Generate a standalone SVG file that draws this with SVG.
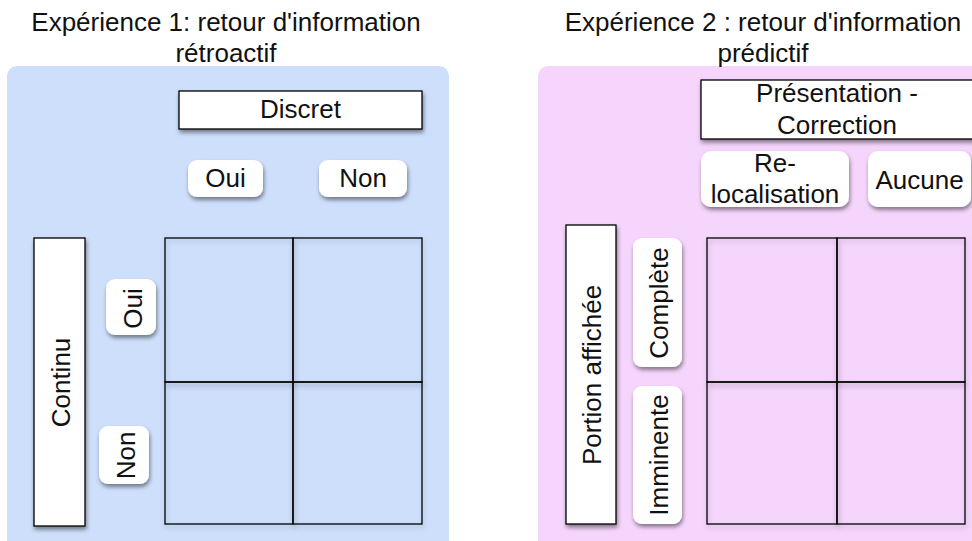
<svg xmlns="http://www.w3.org/2000/svg" width="972" height="541" viewBox="0 0 972 541">
<defs>
<filter id="sh" x="-20%" y="-20%" width="140%" height="140%">
<feDropShadow dx="1" dy="3" stdDeviation="2.2" flood-color="#000" flood-opacity="0.45"/>
</filter>
<filter id="shl" x="-20%" y="-20%" width="140%" height="140%">
<feDropShadow dx="1" dy="3" stdDeviation="2.5" flood-color="#000" flood-opacity="0.22"/>
</filter>
</defs>
<style>
text{font-family:"Liberation Sans",Arial,Helvetica,sans-serif;font-size:26px;fill:#111;}
.c{text-anchor:middle;}
.box{fill:#fff;stroke:#000;stroke-width:1.3;filter:url(#sh);}
.pill{fill:#fff;filter:url(#sh);}
.cell{fill:none;stroke:#000;stroke-width:1.3;filter:url(#shl);}
</style>
<rect x="7" y="66" width="442" height="500" rx="10" fill="#cddffb"/>
<rect x="538" y="66" width="460" height="500" rx="10" fill="#f6d5fc"/>
<g id="title1">
<text class="c" x="226" y="31">Expérience 1: retour d'information</text>
<text class="c" x="226" y="62">rétroactif</text>
</g>
<g id="title2">
<text class="c" x="763" y="31">Expérience 2 : retour d'information</text>
<text class="c" x="763" y="62">prédictif</text>
</g>
<g id="discret"><rect class="box" x="179" y="91" width="243" height="38"/><text class="c" x="300.5" y="118">Discret</text></g>
<g id="d-oui"><rect class="pill" x="188" y="160" width="75" height="37" rx="9"/><text class="c" x="225.5" y="187">Oui</text></g>
<g id="d-non"><rect class="pill" x="319" y="160" width="88" height="37" rx="9"/><text class="c" x="363" y="187">Non</text></g>
<g id="continu"><rect class="box" x="34" y="238" width="51" height="288"/><text class="c" transform="translate(70,382.5) rotate(-90)">Continu</text></g>
<g id="c-oui"><rect class="pill" x="106" y="279" width="50" height="56" rx="9"/><text class="c" transform="translate(141.5,308.5) rotate(-90)">Oui</text></g>
<g id="c-non"><rect class="pill" x="99" y="426" width="50" height="58" rx="9"/><text class="c" transform="translate(135,455.5) rotate(-90)">Non</text></g>
<g id="grid1">
<rect class="cell" x="165" y="238" width="128" height="144"/>
<rect class="cell" x="293" y="238" width="129" height="144"/>
<rect class="cell" x="165" y="382" width="128" height="142"/>
<rect class="cell" x="293" y="382" width="129" height="142"/>
</g>
<g id="presentation"><rect class="box" x="701" y="80" width="280" height="59"/><text class="c" x="837" y="102">Présentation -</text><text class="c" x="837" y="134">Correction</text></g>
<g id="p-reloc"><rect class="pill" x="701" y="151" width="148" height="56" rx="10"/><text class="c" x="775" y="172">Re-</text><text class="c" x="775" y="203">localisation</text></g>
<g id="p-aucune"><rect class="pill" x="868" y="151" width="103" height="56" rx="10"/><text class="c" x="919.5" y="189">Aucune</text></g>
<g id="portion"><rect class="box" x="566" y="225" width="50" height="299"/><text class="c" transform="translate(601,375) rotate(-90)">Portion affichée</text></g>
<g id="complete"><rect class="pill" x="633" y="238" width="49" height="129" rx="9"/><text class="c" transform="translate(667.5,303) rotate(-90)">Complète</text></g>
<g id="imminente"><rect class="pill" x="633" y="386" width="49" height="138" rx="9"/><text class="c" transform="translate(667.5,455) rotate(-90)">Imminente</text></g>
<g id="grid2">
<rect class="cell" x="707" y="238" width="130" height="144"/>
<rect class="cell" x="837" y="238" width="128" height="144"/>
<rect class="cell" x="707" y="382" width="130" height="142"/>
<rect class="cell" x="837" y="382" width="128" height="142"/>
</g>
<g id="connectors"/>
</svg>
